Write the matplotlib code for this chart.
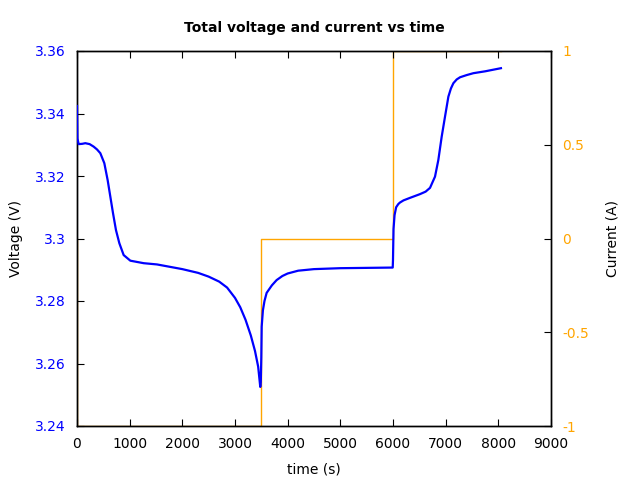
import matplotlib.pyplot as plt

# voltage trace
time_v = [0, 8, 32, 100, 158, 240, 316, 380, 443, 519, 582, 633, 684, 740, 804,
          886, 1013, 1266, 1519, 2000, 2300, 2500, 2700, 2850, 3000, 3100,
          3200, 3300, 3380, 3440, 3480,
          3490, 3500, 3507, 3530, 3560, 3601, 3700, 3791, 3900, 4000, 4200, 4500,
          5000, 5500, 5995,
          6000, 6010, 6030, 6060, 6100, 6132, 6200, 6322, 6513, 6620, 6703, 6798,
          6861, 6925, 6988, 7052, 7100, 7147, 7210, 7274, 7400, 7527, 7750, 8050]
voltage = [3.3424, 3.332, 3.3302, 3.3303, 3.3305, 3.3302, 3.3294, 3.3285, 3.3273,
           3.3241, 3.3187, 3.3134, 3.3081, 3.3027, 3.2985,
           3.2947, 3.2929, 3.2921, 3.2917, 3.2902, 3.2890, 3.2878, 3.2862,
           3.2843, 3.2810, 3.2780, 3.2740, 3.2690, 3.2640, 3.2590, 3.2525,
           3.2540, 3.2620, 3.2718, 3.2770, 3.2800, 3.2826, 3.2850, 3.2867, 3.2880,
           3.2888, 3.2897, 3.2902, 3.2905, 3.2906, 3.2907,
           3.2930, 3.3030, 3.3075, 3.3100, 3.3110, 3.3115, 3.3122, 3.3130, 3.3142,
           3.3150, 3.3162, 3.3198, 3.3251, 3.3326, 3.3390, 3.3454, 3.3480, 3.3497,
           3.3509, 3.3516, 3.3523, 3.3529, 3.3535, 3.3545]

# current steps
time_i = [0, 0, 3500, 3500, 6000, 6000, 8050]
current = [0, -1, -1, 0, 0, 1, 1]

blue = '#0000ff'
orange = '#ffa500'

fig = plt.figure(figsize=(6.4, 4.8), dpi=100)
ax1 = fig.add_axes([0.1203, 0.1125, 0.7406, 0.78125])
ax2 = ax1.twinx()

ax2.plot(time_i, current, color=orange, linewidth=1.0)
ax1.plot(time_v, voltage, color=blue, linewidth=1.6, zorder=5)
ax1.set_zorder(ax2.get_zorder() + 1)
ax1.patch.set_visible(False)

ax1.set_xlim(0, 9000)
ax1.set_ylim(3.24, 3.36)
ax2.set_ylim(-1, 1)

ax1.set_xticks(range(0, 9001, 1000))
ax1.set_yticks([3.24, 3.26, 3.28, 3.30, 3.32, 3.34, 3.36])
ax1.set_yticklabels(['3.24', '3.26', '3.28', '3.3', '3.32', '3.34', '3.36'])
ax2.set_yticks([-1, -0.5, 0, 0.5, 1])
ax2.set_yticklabels(['-1', '-0.5', '0', '0.5', '1'])

ax1.tick_params(axis='x', direction='in', top=True, length=5, labelsize=10, pad=8)
ax1.tick_params(axis='y', direction='in', length=5, labelsize=10, labelcolor=blue, pad=8)
ax2.tick_params(axis='y', direction='in', length=5, labelsize=10, labelcolor=orange, pad=8)

for ax in (ax1, ax2):
    for s in ax.spines.values():
        s.set_linewidth(1.0)

ax1.set_xlabel('time (s)', fontsize=10, labelpad=8)
ax1.set_ylabel('Voltage (V)', fontsize=10, labelpad=9)
ax2.set_ylabel('Current (A)', fontsize=10, labelpad=12)
ax1.set_title('Total voltage and current vs time', fontsize=10, fontweight='bold', pad=14)

fig.savefig('out.png', dpi=100)
